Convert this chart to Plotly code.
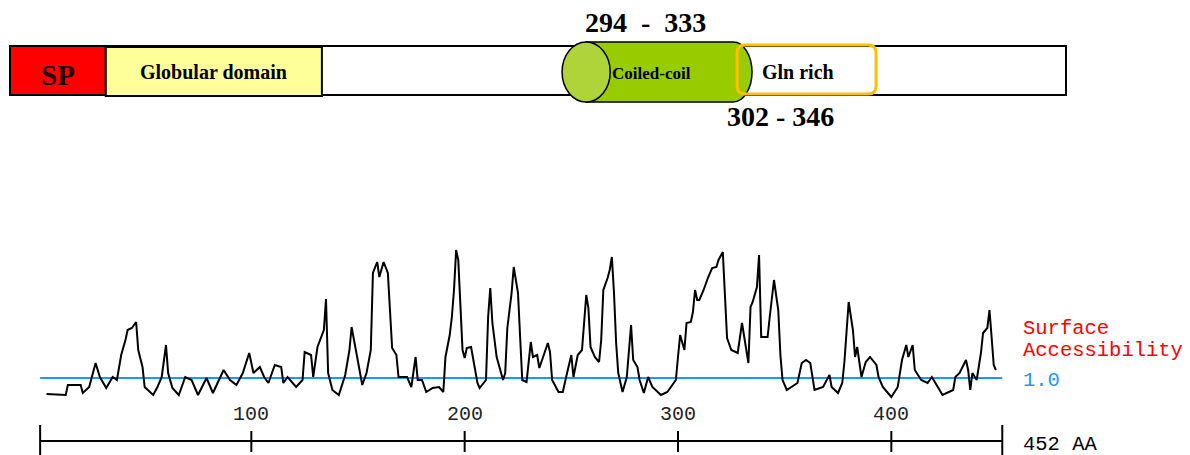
import plotly.graph_objects as go

# ---------------- data ----------------
# Surface accessibility profile (residue position, value)
residues = [4, 13, 14, 20, 21, 24, 27, 29, 32, 35, 37, 39, 41, 42, 44, 46, 47, 49, 50, 54,
            56, 58, 60, 61, 63, 66, 69, 72, 75, 79, 82, 87, 90, 93, 96, 99, 101, 104, 106, 108,
            111, 114, 115, 117, 121, 124, 125, 128, 129, 131, 134, 135, 136, 138, 141, 144, 146, 147, 149, 150,
            152, 154, 156, 157, 159, 160, 162, 164, 165, 166, 168, 169, 173, 175, 177, 178, 180, 182, 185, 188,
            190, 191, 193, 194, 195, 196, 197, 198, 199, 200, 201, 203, 204, 206, 207, 210, 211, 212, 213, 215,
            218, 219, 220, 222, 223, 225, 226, 227, 229, 231, 232, 234, 235, 239, 240, 241, 244, 246, 248, 250,
            251, 253, 255, 256, 257, 258, 259, 261, 263, 264, 265, 267, 268, 269, 270, 271, 272, 274, 276, 278,
            279, 281, 282, 284, 286, 288, 292, 295, 299, 300, 301, 303, 304, 306, 307, 308, 309, 310, 312, 314,
            316, 318, 319, 321, 322, 323, 325, 328, 330, 332, 333, 334, 335, 337, 338, 339, 342, 343, 345, 347,
            348, 349, 351, 356, 358, 360, 362, 364, 368, 371, 372, 375, 377, 378, 379, 380, 382, 383, 384, 386,
            388, 390, 393, 394, 396, 400, 403, 405, 407, 408, 410, 411, 414, 417, 419, 422, 424, 429, 430, 432,
            435, 436, 437, 438, 440, 442, 443, 445, 446, 447, 448, 449]
accessibility = [0.36, 0.32, 0.72, 0.72, 0.40, 0.64, 1.60, 1.04, 0.60, 1.04, 0.92, 1.92, 2.52, 2.92, 3.00, 3.24, 2.12, 1.44, 0.64, 0.32,
                 0.64, 1.04, 2.32, 1.20, 0.60, 0.32, 1.04, 0.92, 0.32, 1.00, 0.40, 1.32, 0.92, 0.72, 1.20, 2.00, 1.20, 1.44, 1.04, 0.80,
                 1.52, 1.44, 0.80, 1.04, 0.64, 0.92, 2.04, 1.92, 1.04, 2.24, 2.92, 4.16, 1.20, 0.52, 0.32, 1.12, 2.12, 3.04, 2.12, 1.60,
                 0.72, 1.20, 2.12, 5.20, 5.64, 5.04, 5.64, 5.20, 3.44, 2.20, 1.92, 1.04, 1.04, 0.64, 1.84, 0.92, 0.92, 0.44, 0.60, 0.64,
                 0.44, 1.84, 2.72, 3.44, 4.52, 6.12, 5.72, 3.72, 2.12, 1.80, 2.20, 2.24, 1.72, 0.80, 0.60, 0.92, 3.44, 4.60, 3.20, 1.84,
                 0.92, 1.20, 3.00, 4.40, 5.44, 4.40, 2.64, 0.92, 0.84, 2.44, 1.84, 1.92, 1.40, 2.40, 2.04, 0.92, 0.44, 0.44, 1.20, 1.92,
                 1.04, 1.92, 2.12, 3.44, 4.32, 3.80, 2.24, 1.84, 1.64, 2.52, 4.52, 5.00, 5.32, 5.84, 4.40, 2.40, 1.20, 0.44, 1.04, 3.12,
                 1.72, 1.44, 0.92, 0.40, 1.04, 0.64, 0.32, 0.44, 0.92, 1.84, 2.72, 2.12, 3.20, 3.24, 3.64, 4.52, 4.12, 4.12, 4.52, 5.00,
                 5.40, 5.44, 5.72, 6.04, 4.24, 2.60, 2.12, 2.00, 3.20, 2.24, 1.60, 3.84, 4.04, 4.64, 5.92, 2.64, 2.64, 3.44, 4.92, 3.72,
                 1.92, 0.92, 0.52, 0.80, 1.60, 1.72, 1.60, 0.52, 0.64, 1.12, 0.64, 0.40, 0.80, 1.64, 3.04, 4.04, 2.92, 1.84, 2.24, 1.04,
                 1.64, 1.84, 1.52, 1.04, 0.64, 0.24, 0.64, 1.72, 2.32, 1.84, 2.32, 1.32, 0.92, 0.80, 1.04, 0.64, 0.32, 0.52, 1.04, 1.20,
                 1.72, 1.32, 0.52, 1.20, 0.92, 2.00, 2.80, 3.00, 3.72, 2.64, 1.52, 1.32]

seq_length = 452
threshold = 1.0
axis_ticks = [100, 200, 300, 400]

# Domain schematic (schematic units, bar spans 0..seq_length; not to scale)
domain_names = ["SP", "Globular domain", "Coiled-coil", "Gln rich"]
domain_start = [0, 41, 236.3, 311.2]
domain_end = [41, 133.5, 317.6, 370.7]
coiled_coil_range = [294, 333]
gln_rich_range = [302, 346]

# ---------------- style ----------------
MONO = "Liberation Mono, DejaVu Sans Mono, monospace"
SERIF = "Liberation Serif, Times New Roman, serif"
BLUE = "#1E96FF"

fig = go.Figure()
fig.add_trace(go.Scatter(x=residues, y=accessibility, mode="lines",
                         line=dict(color="black", width=2), hoverinfo="skip", showlegend=False))
# dummy trace to instantiate schematic axes
fig.add_trace(go.Scatter(x=[None], y=[None], xaxis="x2", yaxis="y2", showlegend=False))

shapes = []
ann = []

# threshold line
shapes.append(dict(type="line", xref="x", yref="y", x0=1, x1=seq_length, y0=threshold, y1=threshold,
                   line=dict(color=BLUE, width=2), layer="below"))
# sequence axis
AX_Y = -1.52
shapes.append(dict(type="line", xref="x", yref="y", x0=1, x1=seq_length, y0=AX_Y, y1=AX_Y,
                   line=dict(color="black", width=2)))
for xe in [1, seq_length]:
    shapes.append(dict(type="line", xref="x", yref="y", x0=xe, x1=xe, y0=-0.88, y1=-2.1,
                       line=dict(color="black", width=2)))
for t in axis_ticks:
    shapes.append(dict(type="line", xref="x", yref="y", x0=t, x1=t, y0=-1.12, y1=-1.96,
                       line=dict(color="black", width=2)))
    ann.append(dict(x=t, y=-0.44, xref="x", yref="y", text=str(t), showarrow=False,
                    font=dict(family=MONO, size=20, color="#222"), xanchor="center", yanchor="middle"))

RX = seq_length + 8.9
LBL = 20.5
ann.append(dict(x=RX, y=3.0, xref="x", yref="y", text="Surface", showarrow=False,
                font=dict(family=MONO, size=LBL, color="#FF0000"), xanchor="left", yanchor="middle"))
ann.append(dict(x=RX, y=2.12, xref="x", yref="y", text="Accessibility", showarrow=False,
                font=dict(family=MONO, size=LBL, color="#FF0000"), xanchor="left", yanchor="middle"))
ann.append(dict(x=RX, y=0.92, xref="x", yref="y", text=f"{threshold:.1f}", showarrow=False,
                font=dict(family=MONO, size=LBL, color=BLUE), xanchor="left", yanchor="middle"))
ann.append(dict(x=RX, y=-1.64, xref="x", yref="y", text=f"{seq_length} AA", showarrow=False,
                font=dict(family=MONO, size=LBL, color="black"), xanchor="left", yanchor="middle"))

# ---------------- domain schematic ----------------
BT, BB = 46, 95
shapes.append(dict(type="rect", xref="x2", yref="y2", x0=0, x1=seq_length, y0=BT, y1=BB,
                   fillcolor="white", line=dict(color="black", width=2)))
# SP
shapes.append(dict(type="rect", xref="x2", yref="y2", x0=domain_start[0], x1=domain_end[0], y0=BT, y1=BB,
                   fillcolor="#FF0000", line=dict(color="black", width=2)))
# Globular
shapes.append(dict(type="rect", xref="x2", yref="y2", x0=domain_start[1], x1=domain_end[1], y0=BT + 1, y1=BB + 1,
                   fillcolor="#FFFF99", line=dict(color="black", width=2)))
# Coiled-coil cylinder
ct, cb = 42, 102
cm = (ct + cb) / 2
erx = 10.3
cs, ce = domain_start[2], domain_end[2]
cx = cs + erx
r = 8.0
k = 0.552
path = (f"M {cx},{ct} L {ce - r},{ct} "
        f"C {ce - r + k * r},{ct} {ce},{cm - k * (cm - ct)} {ce},{cm} "
        f"C {ce},{cm + k * (cb - cm)} {ce - r + k * r},{cb} {ce - r},{cb} "
        f"L {cx},{cb} Z")
shapes.append(dict(type="path", xref="x2", yref="y2", path=path, fillcolor="#99CC00",
                   line=dict(color="black", width=1.5)))
shapes.append(dict(type="circle", xref="x2", yref="y2", x0=cs, x1=cs + 2 * erx, y0=ct, y1=cb,
                   fillcolor="#AED43A", line=dict(color="black", width=1.5)))
# Gln rich rounded box
gs, ge = domain_start[3], domain_end[3]
gt, gb = 45, 94
rx, ry = 3.4, 8
gpath = (f"M {gs + rx},{gt} L {ge - rx},{gt} Q {ge},{gt} {ge},{gt + ry} L {ge},{gb - ry} "
         f"Q {ge},{gb} {ge - rx},{gb} L {gs + rx},{gb} Q {gs},{gb} {gs},{gb - ry} "
         f"L {gs},{gt + ry} Q {gs},{gt} {gs + rx},{gt} Z")
shapes.append(dict(type="path", xref="x2", yref="y2", path=gpath, fillcolor="rgba(0,0,0,0)",
                   line=dict(color="#FFC000", width=3)))

ann.append(dict(x=(domain_start[0] + domain_end[0]) / 2, y=75, xref="x2", yref="y2",
                text=f"<b>{domain_names[0]}</b>", showarrow=False,
                font=dict(family=SERIF, size=29, color="#1a0000"), xanchor="center", yanchor="middle"))
ann.append(dict(x=(domain_start[1] + domain_end[1]) / 2, y=72, xref="x2", yref="y2",
                text=f"<b>{domain_names[1]}</b>", showarrow=False,
                font=dict(family=SERIF, size=20, color="black"), xanchor="center", yanchor="middle"))
ann.append(dict(x=cs + 2 * erx, y=73, xref="x2", yref="y2",
                text=f"<b>{domain_names[2]}</b>", showarrow=False,
                font=dict(family=SERIF, size=17, color="black"), xanchor="left", yanchor="middle"))
ann.append(dict(x=gs + 9.8, y=72, xref="x2", yref="y2",
                text=f"<b>{domain_names[3]}</b>", showarrow=False,
                font=dict(family=SERIF, size=20, color="black"), xanchor="left", yanchor="middle"))
ann.append(dict(x=(cs + ce) / 2 - 5, y=22, xref="x2", yref="y2",
                text=f"<b>{coiled_coil_range[0]}  -  {coiled_coil_range[1]}</b>", showarrow=False,
                font=dict(family=SERIF, size=28, color="black"), xanchor="center", yanchor="middle"))
ann.append(dict(x=(gs + ge) / 2 - 11, y=116, xref="x2", yref="y2",
                text=f"<b>{gln_rich_range[0]} - {gln_rich_range[1]}</b>", showarrow=False,
                font=dict(family=SERIF, size=28, color="black"), xanchor="center", yanchor="middle"))

# The page body has an 8px margin, so the figure is 8px smaller and ranges are offset.
fig.update_layout(
    width=1182, height=447,
    margin=dict(l=0, r=0, t=0, b=0),
    paper_bgcolor="white", plot_bgcolor="white",
    xaxis=dict(range=[-14.06, 540.0], visible=False, fixedrange=True),
    yaxis=dict(range=[-2.08, 15.8], visible=False, fixedrange=True),
    xaxis2=dict(range=[-0.856, 505.07], visible=False, overlaying="x", fixedrange=True),
    yaxis2=dict(range=[455, 8], visible=False, overlaying="y", fixedrange=True),
    shapes=shapes, annotations=ann, showlegend=False,
)

fig.write_html("out.html")
